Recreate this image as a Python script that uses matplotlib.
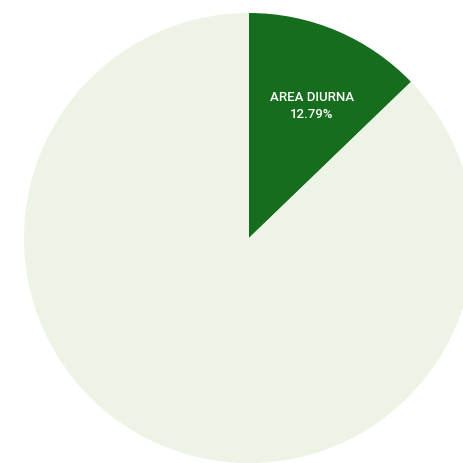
import matplotlib
matplotlib.use('Agg')
import matplotlib.pyplot as plt
import matplotlib.transforms as mtransforms
import numpy as np

plt.rcParams['font.family'] = ['Roboto', 'DejaVu Sans']

labels = ['AREA DIURNA', 'OTRA']
values = [12.79, 87.21]
colors = ['#156d1d', '#edf3e5']

fig = plt.figure(figsize=(4.64, 4.64), dpi=100)
ax = fig.add_axes([0, 0, 1, 1])
cx, cy, r = 249, 225, 225
wedges, _ = ax.pie(values, colors=colors, startangle=90,
                   counterclock=False, center=(cx, cy), radius=r, frame=True)

# label only the first slice, a bit inside the wedge
w = wedges[0]
mid = np.deg2rad((w.theta1 + w.theta2) / 2)
pct = values[0] / sum(values) * 100
shift = mtransforms.offset_copy(ax.transData, fig=fig, x=5.5, y=-1.5, units='dots')
ax.text(cx + 0.65 * r * np.cos(mid), cy + 0.65 * r * np.sin(mid),
        f'{labels[0]}\n{pct:.2f}%', transform=shift, color='white',
        fontsize=9.5, fontweight='medium', ha='center', va='center',
        linespacing=1.4)

ax.set_xlim(0, 464)
ax.set_ylim(0, 464)
ax.set_aspect('equal')
ax.axis('off')

fig.savefig('out.png', dpi=100)
